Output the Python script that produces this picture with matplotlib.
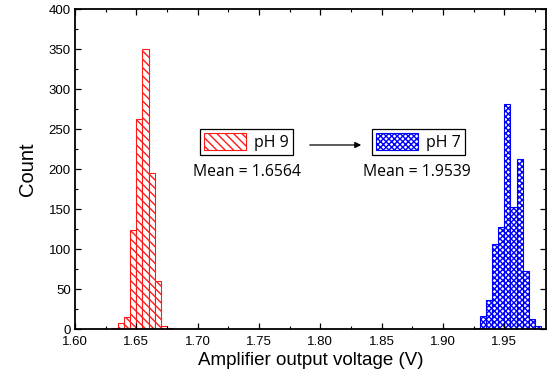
import matplotlib
matplotlib.use("Agg")
import matplotlib.pyplot as plt
from matplotlib.ticker import MultipleLocator, FormatStrFormatter
import numpy as np

# ---- data ----
bin_width = 0.005
ph9_left = [1.630, 1.635, 1.640, 1.645, 1.650, 1.655, 1.660, 1.665, 1.670, 1.675]
ph9_counts = [1, 7, 15, 124, 262, 350, 195, 60, 4, 1]
ph7_left = [1.925, 1.930, 1.935, 1.940, 1.945, 1.950, 1.955, 1.960, 1.965, 1.970, 1.975]
ph7_counts = [1, 16, 36, 106, 127, 281, 152, 212, 72, 12, 4]
labels = ["pH 9", "pH 7"]
means = ["Mean = 1.6564", "Mean = 1.9539"]

plt.rcParams['font.family'] = ['Liberation Sans', 'DejaVu Sans']
plt.rcParams['hatch.linewidth'] = 1.0

fig = plt.figure(figsize=(5.51, 3.86), dpi=100)
ax = fig.add_axes([75/551, 57/386, 471/551, 320/386])

red = '#ff1a1a'
blue = '#0000ff'
b1 = ax.bar(ph9_left, ph9_counts, width=bin_width, align='edge',
            facecolor='white', edgecolor=red, hatch='\\\\\\\\', linewidth=0.8,
            label=labels[0])
b2 = ax.bar(ph7_left, ph7_counts, width=bin_width, align='edge',
            facecolor='white', edgecolor=blue, hatch='xxxxxx', linewidth=0.8,
            label=labels[1])

ax.set_xlim(1.60, 1.984)
ax.set_ylim(0, 400)
ax.xaxis.set_major_locator(MultipleLocator(0.05))
ax.xaxis.set_minor_locator(MultipleLocator(0.025))
ax.xaxis.set_major_formatter(FormatStrFormatter('%.2f'))
ax.yaxis.set_major_locator(MultipleLocator(50))
ax.yaxis.set_minor_locator(MultipleLocator(25))
ax.tick_params(which='both', direction='in', top=True, right=True, labelsize=9.5)
ax.tick_params(axis='x', pad=5)
ax.tick_params(axis='y', pad=3)
ax.tick_params(which='major', length=4, width=0.9)
ax.tick_params(which='minor', length=2, width=0.8)
for s in ax.spines.values():
    s.set_linewidth(1.3)

ax.set_xlabel("Amplifier output voltage (V)", fontsize=13.5, labelpad=3)
ax.set_ylabel("Count", fontsize=14.5, labelpad=8)

common = dict(loc='center', bbox_transform=fig.transFigure, fancybox=False,
              edgecolor='black', framealpha=1, borderpad=0.25, handletextpad=0.5,
              handlelength=2.6, handleheight=1.3, borderaxespad=0,
              prop={'family': 'Open Sans', 'size': 11.5})
leg1 = ax.legend(handles=[b1], bbox_to_anchor=(246.5/551, 1-142/386), **common)
leg1.get_frame().set_linewidth(0.9)
ax.add_artist(leg1)
leg2 = ax.legend(handles=[b2], bbox_to_anchor=(418.5/551, 1-142/386), **common)
leg2.get_frame().set_linewidth(0.9)

ax.annotate('', xy=(364/551, 1-145/386), xytext=(307/551, 1-145/386),
            xycoords='figure fraction', textcoords='figure fraction',
            arrowprops=dict(arrowstyle='-|>', color='black', lw=0.9, mutation_scale=9))

fig.text(247/551, 1-172/386, means[0], ha='center', va='center',
         fontsize=11.3, family='Open Sans')
fig.text(417/551, 1-172/386, means[1], ha='center', va='center',
         fontsize=11.3, family='Open Sans')

fig.savefig("out.png", dpi=100)
